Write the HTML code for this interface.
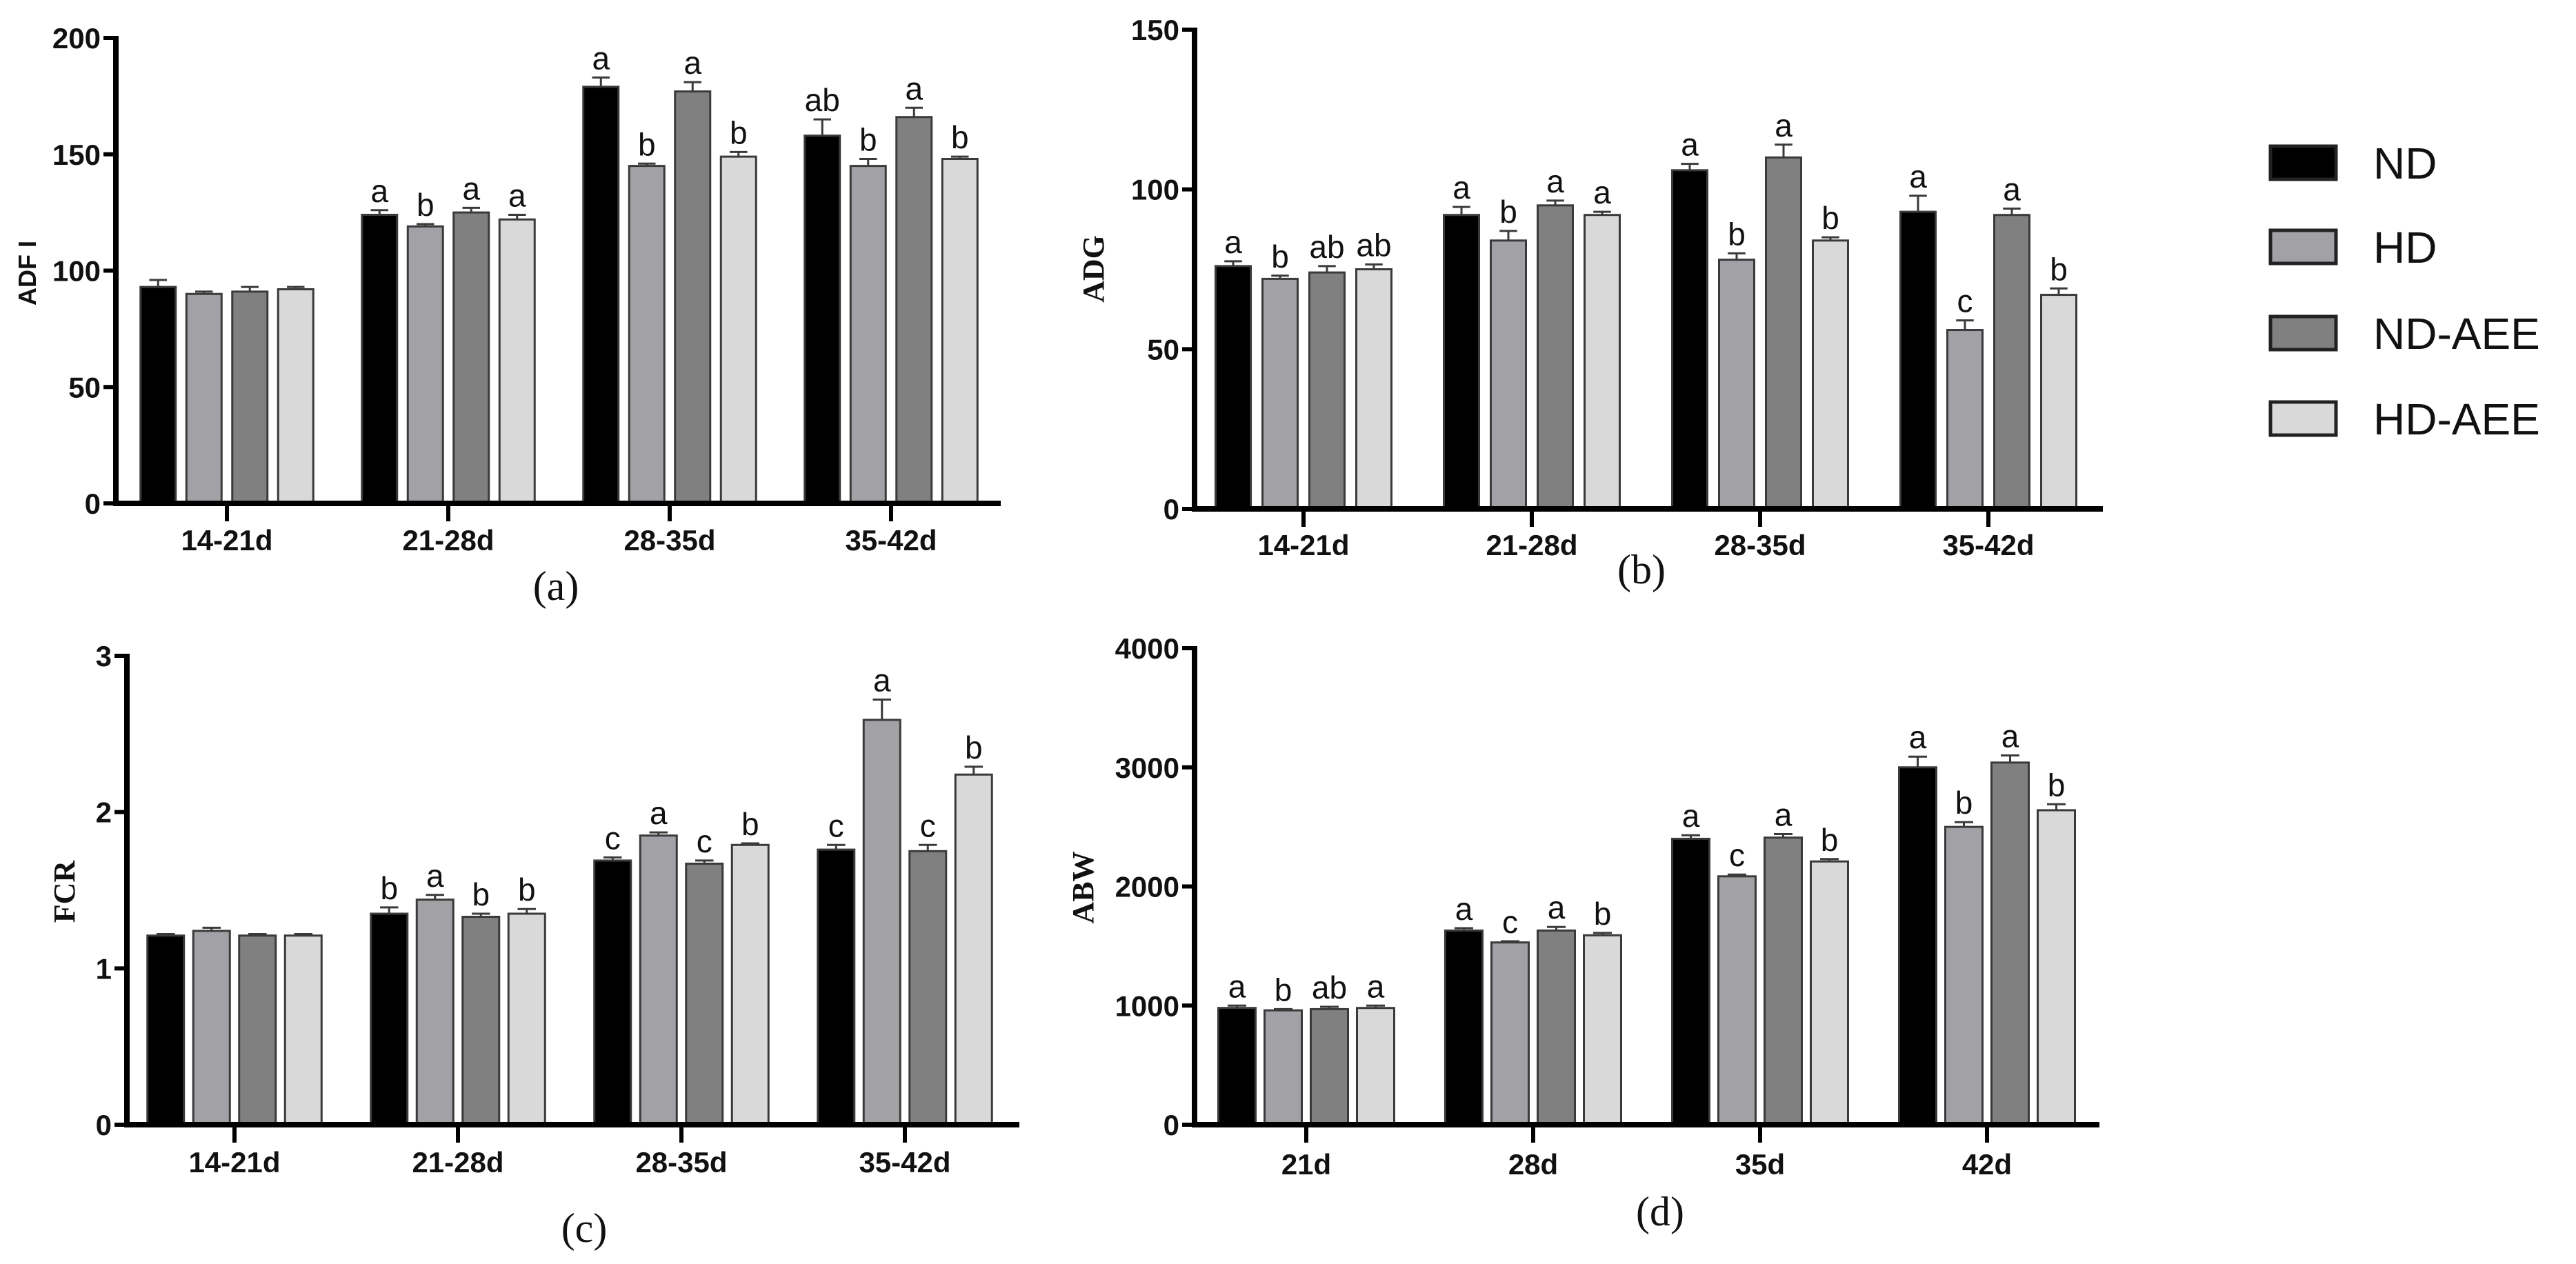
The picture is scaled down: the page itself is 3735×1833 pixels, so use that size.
<!DOCTYPE html>
<html><head><meta charset="utf-8"><style>
html,body{margin:0;padding:0;background:#fff;}
svg{display:block;}
.tk{font-family:"Liberation Sans Narrow","Liberation Sans",sans-serif;font-weight:bold;font-size:42px;fill:#111;}
.lt{font-family:"Liberation Sans Narrow","Liberation Sans",sans-serif;font-size:46px;fill:#111;}
.cap{font-family:"Liberation Serif",serif;font-size:60px;fill:#111;}
.leg{font-family:"Liberation Sans",sans-serif;font-size:64px;fill:#111;}
</style></head><body>
<svg id="chart" width="3735" height="1833" viewBox="0 0 3735 1833" xmlns="http://www.w3.org/2000/svg"></svg>
<script>
const groups=["ND","HD","ND-AEE","HD-AEE"];
const colors=["#000000","#a1a1a6","#808080","#d9d9d9"];
const catsA=["14-21d","21-28d","28-35d","35-42d"];
const catsD=["21d","28d","35d","42d"];
const adfiND=[93,124,179,158], adfiHD=[90,119,145,145], adfiNDA=[91,125,177,166], adfiHDA=[92,122,149,148];
const adfiErrND=[3,2,4,7], adfiErrHD=[1,1,1,3], adfiErrNDA=[2,2,4,4], adfiErrHDA=[1,2,2,1];
const adfiLetND=["","a","a","ab"], adfiLetHD=["","b","b","b"], adfiLetNDA=["","a","a","a"], adfiLetHDA=["","a","b","b"];
const adgND=[76,92,106,93], adgHD=[72,84,78,56], adgNDA=[74,95,110,92], adgHDA=[75,92,84,67];
const adgErrND=[1.5,2.5,2,5], adgErrHD=[1,3,2,3], adgErrNDA=[2,1.5,4,2], adgErrHDA=[1.5,1,1,2];
const adgLetND=["a","a","a","a"], adgLetHD=["b","b","b","c"], adgLetNDA=["ab","a","a","a"], adgLetHDA=["ab","a","b","b"];
const fcrND=[1.21,1.35,1.69,1.76], fcrHD=[1.24,1.44,1.85,2.59], fcrNDA=[1.21,1.33,1.67,1.75], fcrHDA=[1.21,1.35,1.79,2.24];
const fcrErrND=[0.01,0.04,0.02,0.03], fcrErrHD=[0.02,0.03,0.02,0.13], fcrErrNDA=[0.01,0.02,0.02,0.04], fcrErrHDA=[0.01,0.03,0.01,0.05];
const fcrLetND=["","b","c","c"], fcrLetHD=["","a","a","a"], fcrLetNDA=["","b","c","c"], fcrLetHDA=["","b","b","b"];
const abwND=[980,1630,2400,3000], abwHD=[960,1530,2085,2500], abwNDA=[970,1630,2410,3040], abwHDA=[980,1590,2210,2640];
const abwErrND=[20,20,30,90], abwErrHD=[10,10,15,40], abwErrNDA=[20,30,30,60], abwErrHDA=[20,20,20,50];
const abwLetND=["a","a","a","a"], abwLetHD=["b","c","c","b"], abwLetNDA=["ab","a","a","a"], abwLetHDA=["a","b","b","b"];
const ticksA=[0,50,100,150,200], ticksB=[0,50,100,150], ticksC=[0,1,2,3], ticksD=[0,1000,2000,3000,4000];

const NS="http://www.w3.org/2000/svg";
const svg=document.getElementById("chart");
function mk(tag,attrs,parent,txt){const e=document.createElementNS(NS,tag);for(const k in attrs)e.setAttribute(k,attrs[k]);if(txt!==undefined)e.textContent=txt;(parent||svg).appendChild(e);return e;}

function panel(p){
  const g=mk("g",{});
  
  
  const y=v=>p.y0-(v/p.max)*(p.y0-p.yTop);
  const cx=i=>p.c0+i*p.step;
  for(let s=0;s<4;s++){
    for(let i=0;i<4;i++){
      const v=p.vals[s][i], e=p.errs[s][i];
      const bx=cx(i)+(s-1.5)*p.pitch-p.bw/2;
      const r=mk("rect",{x:bx,y:y(v),width:p.bw,height:p.y0-y(v),fill:colors[s],stroke:"#3a3a3a","stroke-width":3},g);
      
      
      const mx=bx+p.bw/2, ty=y(v+e);
      const eb=mk("path",{d:`M${mx} ${y(v)}V${ty}M${mx-p.bw/4} ${ty}H${mx+p.bw/4}`,stroke:"#3a3a3a","stroke-width":3,fill:"none"},g);
      
      
      const L=p.lets[s][i];
      if(L){const t=mk("text",{x:mx,y:ty-12,"text-anchor":"middle",class:"lt"},g,L);
        
        }
    }
  }
  const ya=mk("line",{x1:p.x0,y1:p.yTop-3,x2:p.x0,y2:p.y0+4,stroke:"#000","stroke-width":8},g);
  
  
  const xa=mk("line",{x1:p.x0-4,y1:p.y0,x2:p.xEnd,y2:p.y0,stroke:"#000","stroke-width":8},g);
  
  
  p.ticks.forEach(t=>{
    mk("line",{x1:p.x0-18,y1:y(t),x2:p.x0,y2:y(t),stroke:"#000","stroke-width":6},g);
    const tl=mk("text",{x:p.x0-22,y:y(t)+15,"text-anchor":"end",class:"tk"},g,String(t));
    
    
  });
  p.cats.forEach((c,i)=>{
    mk("line",{x1:cx(i),y1:p.y0,x2:cx(i),y2:p.y0+26,stroke:"#000","stroke-width":6},g);
    const tl=mk("text",{x:cx(i),y:p.labY+15,"text-anchor":"middle",class:"tk"},g,c);
    
    
  });
  const yt=mk("text",{x:p.tx,y:p.ty,"text-anchor":"middle",transform:`rotate(-90 ${p.tx} ${p.ty})`,
    style:p.serif?'font-family:"Liberation Serif",serif;font-weight:bold;font-size:44px':'font-family:"Liberation Sans",sans-serif;font-weight:bold;font-size:36px',fill:"#111"},g,p.title);
  
  
  const cp=mk("text",{x:p.capX,y:p.capY+20,"text-anchor":"middle",class:"cap"},g,p.cap);
  
  
}

panel({name:"adfi-panel",x0:168,y0:730,yTop:55,max:200,c0:329,step:321,bw:51,pitch:66.5,xEnd:1451,ticks:ticksA,cats:catsA,
  vals:[adfiND,adfiHD,adfiNDA,adfiHDA],errs:[adfiErrND,adfiErrHD,adfiErrNDA,adfiErrHDA],lets:[adfiLetND,adfiLetHD,adfiLetNDA,adfiLetHDA],
  labY:783,title:"ADF I",tx:52,ty:396,cap:"(a)",capX:806,capY:850});
panel({name:"adg-panel",x0:1732,y0:738,yTop:43,max:150,c0:1890,step:331,bw:51,pitch:68,xEnd:3049,ticks:ticksB,cats:catsA,
  vals:[adgND,adgHD,adgNDA,adgHDA],errs:[adgErrND,adgErrHD,adgErrNDA,adgErrHDA],lets:[adgLetND,adgLetHD,adgLetNDA,adgLetHDA],
  labY:790,title:"ADG",tx:1600,ty:390,serif:true,cap:"(b)",capX:2380,capY:826});
panel({name:"fcr-panel",x0:184,y0:1631,yTop:951,max:3,c0:340,step:324,bw:53,pitch:66.5,xEnd:1478,ticks:ticksC,cats:catsA,
  vals:[fcrND,fcrHD,fcrNDA,fcrHDA],errs:[fcrErrND,fcrErrHD,fcrErrNDA,fcrErrHDA],lets:[fcrLetND,fcrLetHD,fcrLetNDA,fcrLetHDA],
  labY:1685,title:"FCR",tx:108,ty:1293,serif:true,cap:"(c)",capX:847,capY:1781});
panel({name:"abw-panel",x0:1732,y0:1631,yTop:940,max:4000,c0:1894,step:329,bw:54,pitch:67,xEnd:3044,ticks:ticksD,cats:catsD,
  vals:[abwND,abwHD,abwNDA,abwHDA],errs:[abwErrND,abwErrHD,abwErrNDA,abwErrHDA],lets:[abwLetND,abwLetHD,abwLetNDA,abwLetHDA],
  labY:1688,title:"ABW",tx:1585,ty:1287,serif:true,cap:"(d)",capX:2407,capY:1757});

const legY=[212,334,459,583];
groups.forEach((gname,i)=>{
  const r=mk("rect",{x:3292,y:legY[i],width:95,height:48,fill:colors[i],stroke:"#222","stroke-width":5});
  
  
  const t=mk("text",{x:3441,y:legY[i]+47,class:"leg"},svg,gname);
  
  
});
</script>
</body></html>
